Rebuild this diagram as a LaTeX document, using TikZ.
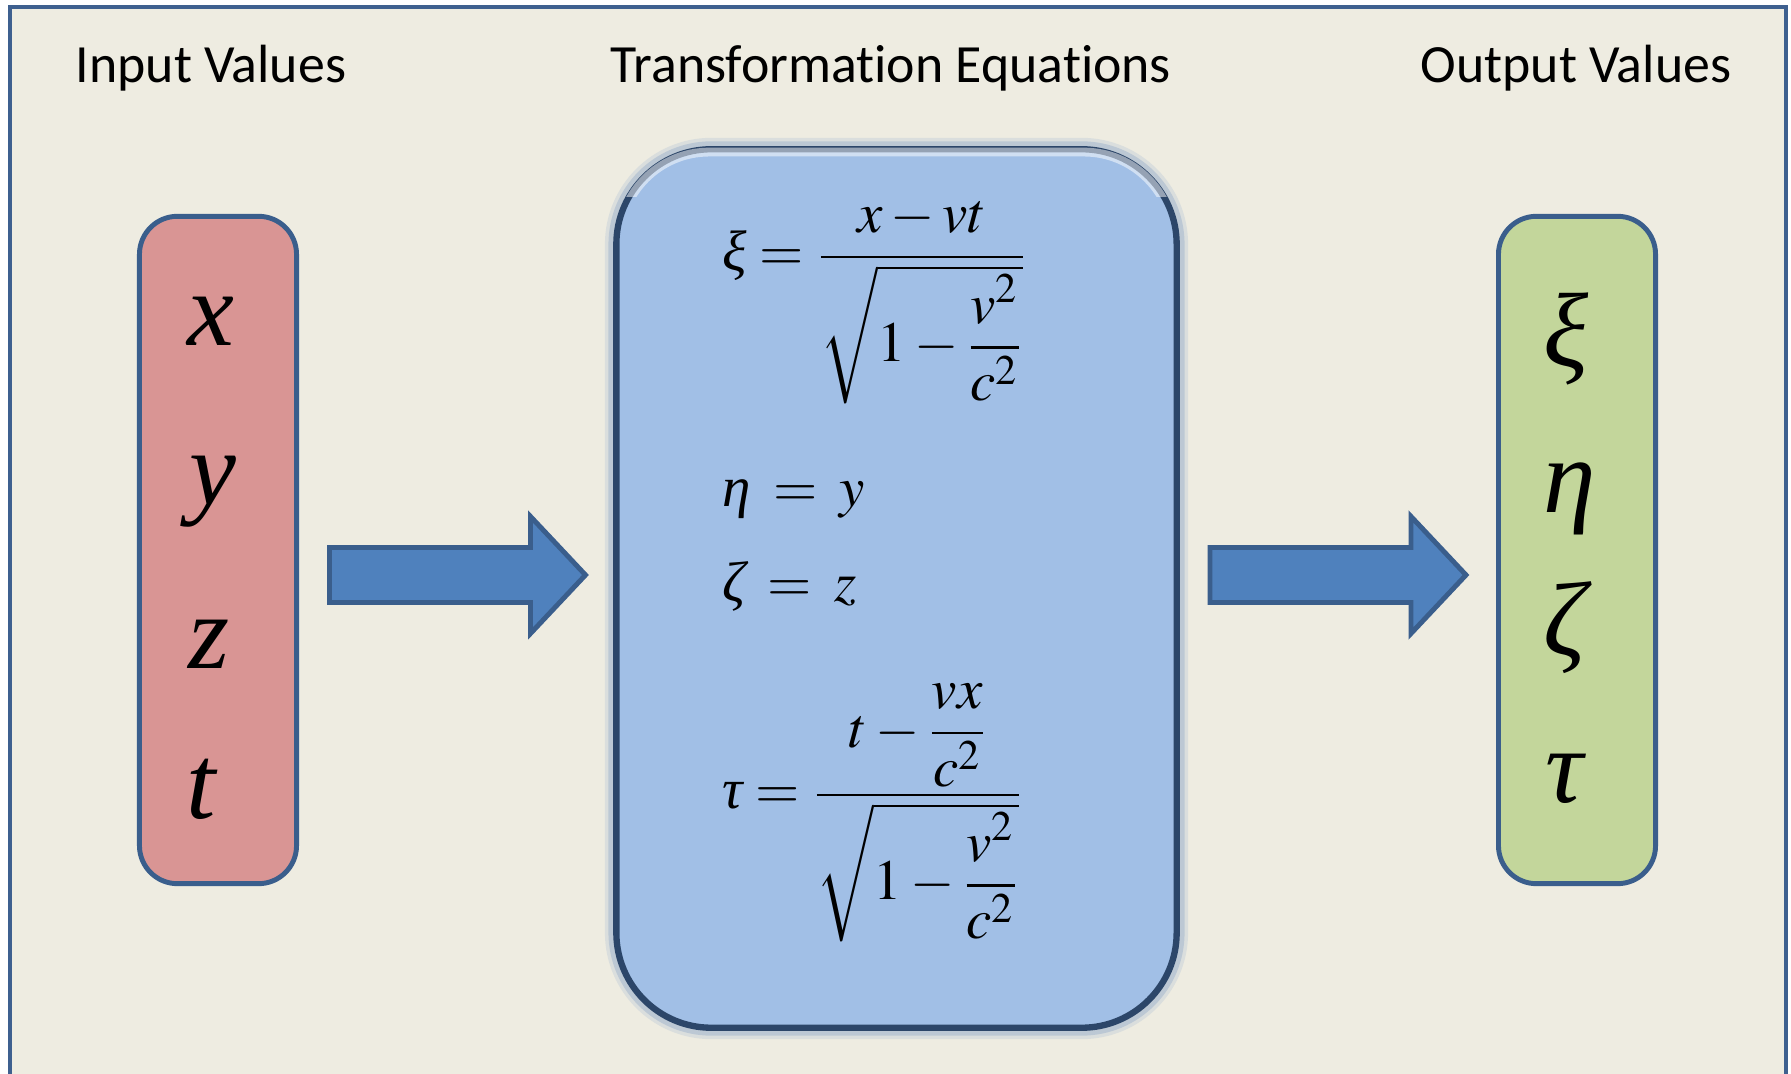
\documentclass[tikz,border=0pt]{standalone}
\usepackage{amsmath}
\usepackage{mathptmx}
\usepackage[no-math]{fontspec}
\newfontfamily\titlefont{Carlito}[Ligatures={NoCommon}]
\newfontfamily\varfont{Liberation Serif}
\usetikzlibrary{calc}

\definecolor{paper}{RGB}{238,236,225}
\definecolor{frameblue}{RGB}{62,96,143}
\definecolor{edgeblue}{RGB}{58,94,140}
\definecolor{inred}{RGB}{217,149,148}
\definecolor{outgreen}{RGB}{195,214,155}
\definecolor{eqblue}{RGB}{161,191,230}
\definecolor{arrowblue}{RGB}{79,129,189}

% greek letters set as italic text
\newcommand{\gr}[1]{\mbox{\varfont\itshape #1}}

\begin{document}
\begin{tikzpicture}[x=0.01cm,y=-0.01cm,
    heading/.style={font=\titlefont\fontsize{15.3}{18}\selectfont, anchor=base, inner sep=0pt},
    valbox/.style={draw=edgeblue, line width=1.4pt, rounded corners=0.38cm,
        minimum width=1.57cm, minimum height=6.67cm, inner sep=0pt},
    var/.style={font=\varfont\itshape\fontsize{30}{36}\selectfont, anchor=base west, inner sep=0pt},
    eqn/.style={font=\fontsize{16.2}{19}\selectfont, anchor=base west, inner sep=0pt},
    blockarrow/.style={draw=edgeblue, fill=arrowblue, line width=1.4pt, line join=miter}]
    \clip (0,0) rectangle (1791,1074);
    \draw[frameblue, line width=1.2pt, fill=paper] (10,7) rectangle (1786,1120);

    \node[heading] (intitle) at (211,83) {Input Values};
    \node[heading] (eqtitle) at (891,83) {Transformation Equations};
    \node[heading] (outtitle) at (1576,83) {Output Values};

    % boxes
    \node[valbox, fill=inred] (inbox) at (218,550) {};
    \node[valbox, fill=outgreen] (outbox) at (1577,550) {};
    \node[draw=edgeblue!75!black, fill=eqblue, line width=1.8pt, rounded corners=0.95cm,
        minimum width=5.6cm, minimum height=8.78cm, inner sep=0pt,
        preaction={draw=eqblue!70!edgeblue, line width=6.5pt, draw opacity=0.18},
        preaction={draw=eqblue!60!edgeblue, line width=4.5pt, draw opacity=0.3}] (eqbox) at (896.5,588.5) {};
    \begin{scope}
        \clip (eqbox.north west) rectangle ($(eqbox.north east)+(0,50)$);
        \draw[white, draw opacity=0.5, line width=2.5pt, rounded corners=0.9cm]
            ($(eqbox.north west)+(6,6)$) rectangle ($(eqbox.south east)+(-6,-6)$);
    \end{scope}

    % block arrows
    \coordinate (inarrow) at (329.5,575);
    \coordinate (outarrow) at (1210,575);
    \foreach \a in {inarrow,outarrow}
        \draw[blockarrow] (\a) ++(0,-27.5) -- ++(201,0) -- ++(0,-31) -- ++(55,58.5)
            -- ++(-55,58.5) -- ++(0,-31) -- ++(-201,0) -- cycle;

    % input values
    \node[var] (inx) at (187,346) {x};
    \node[var] (iny) at (189,505) {y};
    \node[var] (inz) at (188,669) {z};
    \node[var] (int) at (186,819) {t};

    % output values
    \node[var] (outxi) at (1543,367) {ξ};
    \node[var] (outeta) at (1543,513) {η};
    \node[var] (outzeta) at (1543,656) {ζ};
    \node[var] (outtau) at (1545,803) {τ};

    % equations
    \node[eqn] (eqxi) at (722,271) {$\displaystyle \gr{ξ} = \frac{x-vt}{\sqrt{1-\dfrac{v^{2}}{c^{2}}}}$};
    \node[eqn] (eqeta) at (722,507) {$\gr{η} \mskip3mu=\mskip3mu y$};
    \node[eqn] (eqzeta) at (722,602) {$\gr{ζ} \mskip3mu=\mskip3mu z$};
    \node[eqn] (eqtau) at (722,809) {$\displaystyle \gr{τ} = \frac{t-\dfrac{vx}{c^{2}}}{\sqrt{1-\dfrac{v^{2}}{c^{2}}}}$};
\end{tikzpicture}
\end{document}
